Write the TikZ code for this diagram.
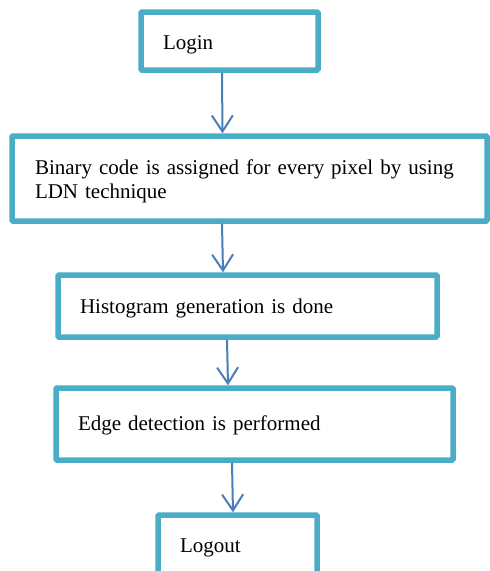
\documentclass[tikz,border=0pt]{standalone}
\usepackage{fontspec}
\setmainfont{Liberation Serif}
\usetikzlibrary{arrows.meta}
\definecolor{boxc}{HTML}{4BACC6}
\definecolor{arrc}{HTML}{4A7EBB}
\begin{document}
\begin{tikzpicture}[x=1pt,y=-1pt,
  stepbox/.style={draw=boxc, line width=5.5pt, fill=white, rounded corners=1pt,
    align=left, inner ysep=0pt, inner xsep=22pt,
    font=\fontsize{21}{24}\selectfont},
  flow/.style={draw=arrc, line width=2pt,
    -{Straight Barb[length=16pt,width=21pt,line width=2pt]}}]
\useasboundingbox (0,0) rectangle (490,571);
\clip (0,0) rectangle (490,571);
\fill[white] (0,0) rectangle (490,571);
\node[stepbox, minimum width=177pt, minimum height=58pt, text width=133pt,
  text height=18pt, text depth=2pt] (login) at (229.5,41) {Login};
\node[stepbox, minimum width=475pt, minimum height=85pt, text width=429pt,
  inner xsep=23pt, text height=14pt, text depth=23pt] (binary) at (249.5,178.5)
  {Binary code is assigned for every pixel by using\\LDN technique};
\node[stepbox, minimum width=379pt, minimum height=62pt, text width=335pt,
  text height=16pt, text depth=2pt] (hist) at (247.5,306) {Histogram generation is done};
\node[stepbox, minimum width=397pt, minimum height=72pt, text width=353pt,
  text height=14pt, text depth=2pt] (edge) at (254.5,424) {Edge detection is performed};
\node[stepbox, minimum width=159pt, minimum height=62pt, text width=115pt,
  text height=14pt, text depth=2pt] (logout) at (237.5,546) {Logout};
\draw[flow] ([xshift=-7.5pt]login.south) -- ([xshift=-27pt]binary.north);
\draw[flow] ([xshift=-27.5pt]binary.south) -- ([xshift=-24.5pt]hist.north);
\draw[flow] ([xshift=-20.5pt]hist.south) -- ([xshift=-26.5pt]edge.north);
\draw[flow] ([xshift=-22.5pt]edge.south) -- ([xshift=-4.5pt]logout.north);
\end{tikzpicture}
\end{document}
